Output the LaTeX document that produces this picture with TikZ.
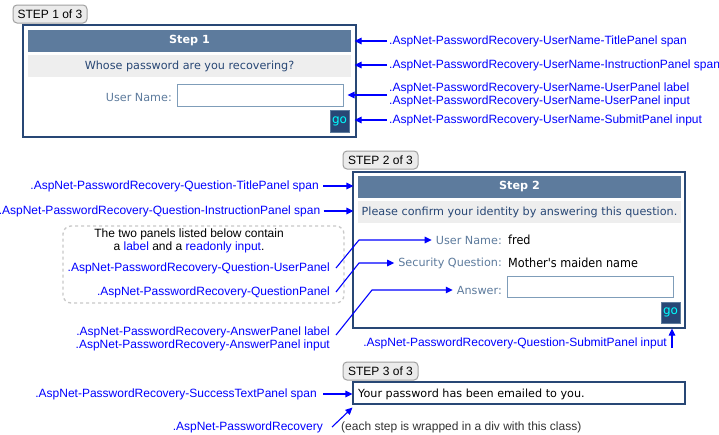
\documentclass[tikz,border=0pt]{standalone}
\usepackage{fontspec}
\setmainfont{Liberation Sans}
\newfontfamily\uifont{DejaVu Sans}
\newfontfamily\valfont{DejaVu Sans Condensed}
\usetikzlibrary{arrows.meta,calc}
\definecolor{lblue}{HTML}{0000FF}
\definecolor{navy}{HTML}{284775}
\definecolor{titlebg}{HTML}{5D7B9D}
\definecolor{instrbg}{HTML}{EEEEEE}
\definecolor{inbord}{HTML}{7F9DB9}
\definecolor{lbltxt}{HTML}{5D7B9D}
\definecolor{tagbg}{HTML}{EBEBEB}
\definecolor{tagbd}{HTML}{A0A0A0}
\definecolor{notebd}{HTML}{C8C8C8}
\definecolor{gocyan}{HTML}{00FFFF}
\begin{document}
\begin{tikzpicture}[x=1pt,y=-1pt,
  lab/.style={font=\fontsize{12}{12.5}\selectfont, text=lblue, inner sep=0pt},
  plain/.style={font=\fontsize{12}{12.5}\selectfont, text=black, inner sep=0pt},
  arr/.style={draw=lblue, line width=1.1pt, -{Triangle[length=7pt,width=6.5pt]}},
  tagbox/.style={draw=tagbd, fill=tagbg, rounded corners=4pt, line width=1pt,
    font=\fontsize{12}{12.5}\selectfont, inner sep=0pt, minimum height=18pt},
  panel/.style={draw=navy, line width=1.1pt, inner sep=0pt},
  titlebar/.style={fill=titlebg, inner sep=0pt, text=white, font=\uifont\bfseries\fontsize{11.2}{12}\selectfont},
  instr/.style={fill=instrbg, inner sep=0pt, text=navy, font=\uifont\fontsize{11.2}{12}\selectfont},
  uilab/.style={text=lbltxt, inner sep=0pt, font=\uifont\fontsize{11.2}{12}\selectfont},
  uival/.style={text=black, inner sep=0pt, font=\valfont\fontsize{12.5}{13}\selectfont},
  inbox/.style={draw=inbord, line width=1pt, fill=white, inner sep=0pt},
  gobtn/.style={fill=navy, draw=titlebg, line width=1pt, inner sep=0pt, text=gocyan, font=\uifont\fontsize{12}{12}\selectfont},
  notebox/.style={draw=notebd, dashed, line width=1.3pt, rounded corners=8pt, inner sep=0pt}
]
\useasboundingbox[fill=white] (0,0) rectangle (719,434);

% ---------------- STEP 1 ----------------
\node[tagbox, minimum width=74pt] (s1tag) at (50,14) {STEP 1 of 3};
\node[panel, minimum width=333pt, minimum height=112pt] (s1box) at (189.5,81) {};
\node[titlebar, minimum width=323pt, minimum height=22pt] (s1title) at (189.5,41) {Step 1};
\node[instr, minimum width=323pt, minimum height=22pt] (s1instr) at (189.5,66) {Whose password are you recovering?};
\node[uilab, anchor=east] (s1ulab) at (172,97) {User Name:};
\node[inbox, minimum width=166pt, minimum height=22pt] (s1input) at (260,95) {};
\node[gobtn, minimum width=19pt, minimum height=22pt] (s1go) at (339.5,121) {go};

\node[lab, anchor=west] (r1) at (389,41) {.AspNet-PasswordRecovery-UserName-TitlePanel span};
\node[lab, anchor=west] (r2) at (389,65) {.AspNet-PasswordRecovery-UserName-InstructionPanel span};
\node[lab, anchor=west, align=left] (r3) at (389,95) {.AspNet-PasswordRecovery-UserName-UserPanel label\\.AspNet-PasswordRecovery-UserName-UserPanel input};
\node[lab, anchor=west] (r4) at (389,120) {.AspNet-PasswordRecovery-UserName-SubmitPanel input};

\draw[arr] ([xshift=-2pt]r1.west) -- ([xshift=-2pt]r1.west -| s1box.east);
\draw[arr] ([xshift=-2pt]r2.west) -- ([xshift=-2pt]r2.west -| s1box.east);
\draw[arr] ([xshift=-2pt]r3.west) -- ([xshift=4pt]s1input.east);
\draw[arr] ([xshift=-2pt]r4.west) -- ([xshift=-2pt]r4.west -| s1box.east);

% ---------------- STEP 2 ----------------
\node[tagbox, minimum width=75pt] (s2tag) at (380.5,160) {STEP 2 of 3};
\node[panel, minimum width=332pt, minimum height=156pt] (s2box) at (519,250) {};
\node[titlebar, minimum width=323pt, minimum height=22pt] (s2title) at (519.5,187) {Step 2};
\node[instr, minimum width=323pt, minimum height=22pt] (s2instr) at (519.5,212) {Please confirm your identity by answering this question.};
\node[uilab, anchor=east] (s2ulab) at (502,240) {User Name:};
\node[uival, anchor=west] (s2uval) at (508,240) {fred};
\node[uilab, anchor=east] (s2qlab) at (502,263) {Security Question:};
\node[uival, anchor=west] (s2qval) at (508,263) {Mother's maiden name};
\node[uilab, anchor=east] (s2alab) at (502,290) {Answer:};
\node[inbox, minimum width=166pt, minimum height=21pt] (s2input) at (590,286.5) {};
\node[gobtn, minimum width=19pt, minimum height=21pt] (s2go) at (670.5,312.5) {go};

\node[lab, anchor=east] (l1) at (319,186) {.AspNet-PasswordRecovery-Question-TitlePanel span};
\node[lab, anchor=east] (l2) at (320.5,211) {.AspNet-PasswordRecovery-Question-InstructionPanel span};
\draw[arr] ([xshift=4pt]l1.east) -- ([xshift=1pt]l1.east -| s2box.west);
\draw[arr] ([xshift=3pt]l2.east) -- ([xshift=1pt]l2.east -| s2box.west);

\node[notebox, minimum width=281pt, minimum height=77pt] (note) at (203.5,264.5) {};
\node[plain, align=center] (notetxt) at (189,241) {The two panels listed below contain\\a {\color{lblue}label} and a {\color{lblue}readonly input}.};
\node[lab, anchor=east] (q1) at (330,268) {.AspNet-PasswordRecovery-Question-UserPanel};
\node[lab, anchor=east] (q2) at (330,292) {.AspNet-PasswordRecovery-QuestionPanel};
\node[lab, anchor=east, align=right] (q3) at (330,339) {.AspNet-PasswordRecovery-AnswerPanel label\\.AspNet-PasswordRecovery-AnswerPanel input};

\draw[arr] ([xshift=6pt]q1.east) -- ++(23,-28) -- ([xshift=-4pt]s2ulab.west);
\draw[arr] ([xshift=6pt]q2.east) -- ++(23,-29) -- ([xshift=-4pt]s2qlab.west);
\draw[arr] ([xshift=6pt,yshift=4pt]q3.east) -- ++(36,-45) -- ([xshift=-4pt]s2alab.west);

\node[lab, anchor=east] (s2sub) at (667,343) {.AspNet-PasswordRecovery-Question-SubmitPanel input};
\draw[arr] ([xshift=5pt,yshift=-5pt]s2sub.east) -- ([xshift=5pt]s2sub.east |- s2box.south);

% ---------------- STEP 3 ----------------
\node[tagbox, minimum width=75pt] (s3tag) at (380.5,371) {STEP 3 of 3};
\node[panel, minimum width=332pt, minimum height=22pt] (s3box) at (519,393) {};
\node[text=black, inner sep=0pt, font=\uifont\fontsize{11.2}{12}\selectfont, anchor=west] (s3text) at (358,394) {Your password has been emailed to you.};

\node[lab, anchor=east] (l3) at (317,394) {.AspNet-PasswordRecovery-SuccessTextPanel span};
\draw[arr] ([xshift=6pt]l3.east) -- (l3.east -| s3box.west);
\node[lab, anchor=east] (l4) at (323,427) {.AspNet-PasswordRecovery};
\draw[arr] ([xshift=9pt]l4.east) -- ([yshift=-3pt]s3box.south west);
\node[plain, anchor=west, text=black!80] (l4note) at (341,427) {(each step is wrapped in a div with this class)};
\end{tikzpicture}
\end{document}
